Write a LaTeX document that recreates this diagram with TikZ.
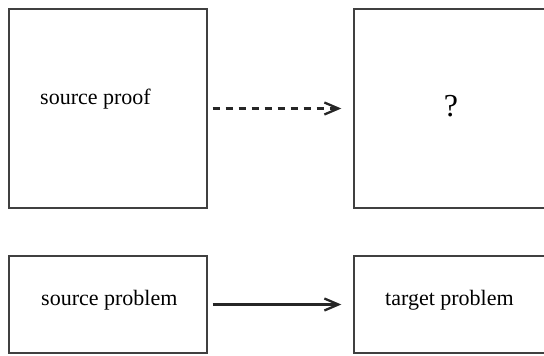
\documentclass[tikz,border=0pt]{standalone}
\usepackage{fontspec}
\setmainfont{Liberation Serif}
\usetikzlibrary{arrows.meta}
\begin{document}
\begin{tikzpicture}[x=1pt,y=-1pt,
  box/.style={draw=black!75,line width=1.4pt,rectangle,inner sep=0pt},
  lbl/.style={inner sep=0pt,anchor=base west,text=black,font=\fontsize{22}{26}\selectfont},
  conn/.style={line width=2.3pt,draw=black!85,-{Straight Barb[length=14pt,width=12pt,line width=2.3pt]},shorten <=5pt,shorten >=12pt},
  dasharrow/.style={conn,dash pattern=on 7pt off 6pt}]
\useasboundingbox (0,0) rectangle (544,356);
\node[box,minimum width=198pt,minimum height=199pt] (sp) at (108,108.5) {};
\node[box,minimum width=206pt,minimum height=199pt] (tq) at (457,108.5) {};
\node[box,minimum width=198pt,minimum height=97pt] (sb) at (108,304.5) {};
\node[box,minimum width=206pt,minimum height=97pt] (tb) at (457,304.5) {};
\node[lbl] (t1) at (40,104) {source proof};
\node[inner sep=0pt,anchor=base,text=black,font=\fontsize{32}{36}\selectfont] (t2) at (451,116) {?};
\node[lbl] (t3) at (41,305) {source problem};
\node[lbl] (t4) at (385,305) {target problem};
\draw[dasharrow] (sp.east) -- (tq.west);
\draw[conn] (sb.east) -- (tb.west);
\end{tikzpicture}
\end{document}
